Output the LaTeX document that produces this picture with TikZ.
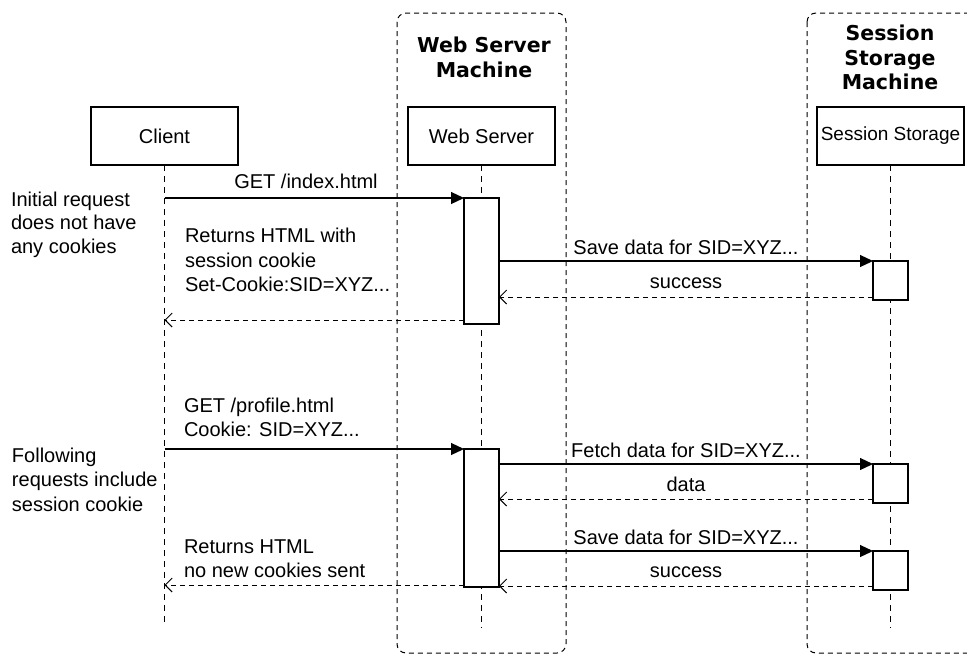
\documentclass[tikz,border=0pt]{standalone}
\usepackage{fontspec}
\setmainfont{Liberation Sans}
\newfontfamily\titlefont{DejaVu Sans}
\usetikzlibrary{arrows.meta}
\begin{document}
\begin{tikzpicture}[x=1pt,y=-1pt,
  every node/.style={inner sep=0pt, outer sep=0pt},
  lbl/.style={font=\fontsize{20}{24.5}\selectfont},
  mlbl/.style={font=\fontsize{20}{24.5}\selectfont, align=left, anchor=north west},
  actor/.style={draw, line width=1.2pt, minimum width=147pt, minimum height=58pt, font=\fontsize{20}{24}\selectfont},
  machine/.style={draw, dash pattern=on 5pt off 4pt, line width=1pt, rounded corners=9pt},
  lifeline/.style={dash pattern=on 6pt off 5pt, line width=1pt},
  act/.style={draw, fill=white, line width=1.2pt, minimum width=35pt},
  call/.style={line width=1.2pt, -{Triangle[length=13pt,width=12pt]}},
  reply/.style={line width=1pt, dash pattern=on 5pt off 4pt, -{Straight Barb[length=7pt,width=14pt,line width=1pt]}},
  title/.style={font=\titlefont\bfseries\fontsize{20.5}{24.5}\selectfont, align=center}
]
\useasboundingbox (0,0) rectangle (967,654);
\clip (0,0) rectangle (967,654);

% machine boundaries
\draw[machine] (397,13) rectangle (566,653);
\draw[machine] (807,13) rectangle (1010,653);

% titles
\node[title] (wsm) at (484,57.5) {Web Server\\Machine};
\node[title] (ssm) at (890,57.5) {Session\\Storage\\Machine};

% actors
\node[actor] (client) at (164.5,136) {Client};
\node[actor] (ws) at (481.5,136) {Web Server};
\node[actor, font=\fontsize{19}{23}\selectfont] (ss) at (890.5,136) {Session Storage};

% lifelines
\coordinate (cEnd) at (164.5,625);
\coordinate (wEnd) at (481.5,628);
\coordinate (sEnd) at (890.5,628);
\draw[lifeline] (client.south) -- (cEnd);
\draw[lifeline] (ws.south) -- (wEnd);
\draw[lifeline] (ss.south) -- (sEnd);

% activations
\node[act, minimum height=126pt] (a1) at (481.5,261) {};
\node[act, minimum height=39pt] (s1) at (890.5,280.5) {};
\node[act, minimum height=138pt] (a2) at (481.5,518) {};
\node[act, minimum height=39pt] (s2) at (890.5,483.5) {};
\node[act, minimum height=39pt] (s3) at (890.5,570.5) {};

% first request
\draw[call] (client.south |- a1.north) -- (a1.north west);
\draw[call] (a1.east |- s1.north) -- (s1.north west);
\coordinate (r1) at ([yshift=3pt]s1.south west);
\draw[reply] (r1) -- (a1.east |- r1);
\coordinate (r2) at ([yshift=4pt]a1.south west);
\draw[reply] (r2) -- (client.south |- r2);

% second request
\draw[call] (client.south |- a2.north) -- (a2.north west);
\draw[call] (a2.east |- s2.north) -- (s2.north west);
\coordinate (r3) at ([yshift=4pt]s2.south west);
\draw[reply] (r3) -- (a2.east |- r3);
\draw[call] (a2.east |- s3.north) -- (s3.north west);
\coordinate (r4) at ([yshift=4pt]s3.south west);
\draw[reply] (r4) -- (a2.east |- r4);
\coordinate (r5) at ([yshift=2pt]a2.south west);
\draw[reply] (r5) -- (client.south |- r5);

% labels
\node[lbl, anchor=base] (l1) at (306,188) {GET /index.html};
\node[lbl, anchor=base] (l2) at (686,254) {Save data for SID=XYZ...};
\node[lbl, anchor=base] (l3) at (686,288) {success};
\node[lbl, anchor=base] (l4) at (686,457) {Fetch data for SID=XYZ...};
\node[lbl, anchor=base] (l5) at (686,491) {data};
\node[lbl, anchor=base] (l6) at (686,544) {Save data for SID=XYZ...};
\node[lbl, anchor=base] (l7) at (686,577) {success};

\node[mlbl, font=\fontsize{20}{23.5}\selectfont] (n1) at (11,192) {Initial request\\does not have\\any cookies};
\node[mlbl] (n2) at (185,228.5) {Returns HTML with\\session cookie\\Set-Cookie:SID=XYZ...};
\node[mlbl] (n3) at (12,447.5) {Following\\requests include\\session cookie};
\node[mlbl] (n4) at (184,397.5) {GET /profile.html\\Cookie: SID=XYZ...};
\node[mlbl] (n5) at (184,539.5) {Returns HTML\\no new cookies sent};
\end{tikzpicture}
\end{document}
